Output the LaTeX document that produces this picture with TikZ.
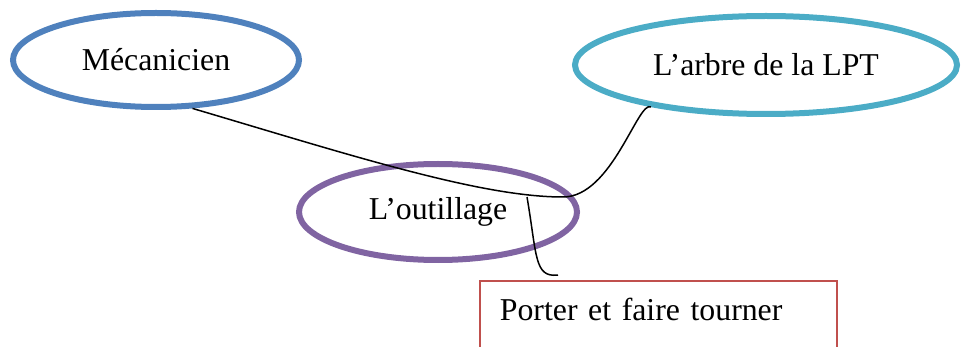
\documentclass[tikz,border=0pt]{standalone}
\usepackage{fontspec}
\setmainfont{Liberation Serif}
\usetikzlibrary{shapes.geometric}

\definecolor{wordblue}{HTML}{4F81BD}
\definecolor{wordaqua}{HTML}{4BACC6}
\definecolor{wordpurple}{HTML}{8064A2}
\definecolor{wordred}{HTML}{C0504D}

\begin{document}
\begin{tikzpicture}[
    x=0.5pt, y=-0.5pt,
    bubble/.style={ellipse, draw, line width=3pt, inner sep=0pt,
        font=\fontsize{15.9}{19}\selectfont},
    frame/.style={rectangle, draw=wordred, line width=0.9pt,
        font=\fontsize{15.9}{19}\selectfont},
    edge/.style={line width=0.75pt}
]

% page area
\clip (0,0) rectangle (963,347);

% Define bubbles
\node[bubble, draw=wordblue, minimum width=143pt, minimum height=47pt] (mec) at (156,60) {Mécanicien};
\node[bubble, draw=wordaqua, minimum width=191pt, minimum height=49pt] (lpt) at (766,65) {L’arbre de la LPT};
\node[bubble, draw=wordpurple, minimum width=139pt, minimum height=48pt] (outil) at (438,212) {L’outillage};

% Define box
\node[frame, anchor=north west, text width=158.5pt, align=left, inner xsep=10pt, inner ysep=8pt,
    text height=12pt, text depth=45pt] (task) at (479,280) {Porter et faire tourner};

% Define links
\coordinate (dip) at (563,197);
\coordinate (jn) at (527,197);
\coordinate (tip) at ([shift={(79,-5)}]task.north west);

\draw[edge] (mec.-53) .. controls (350,155) and (480,197) .. (dip)
    .. controls (612,197) and (638,100) .. (lpt.200);
\draw[edge] (jn) .. controls (537,255) and (534,278) .. (tip);

\end{tikzpicture}
\end{document}
